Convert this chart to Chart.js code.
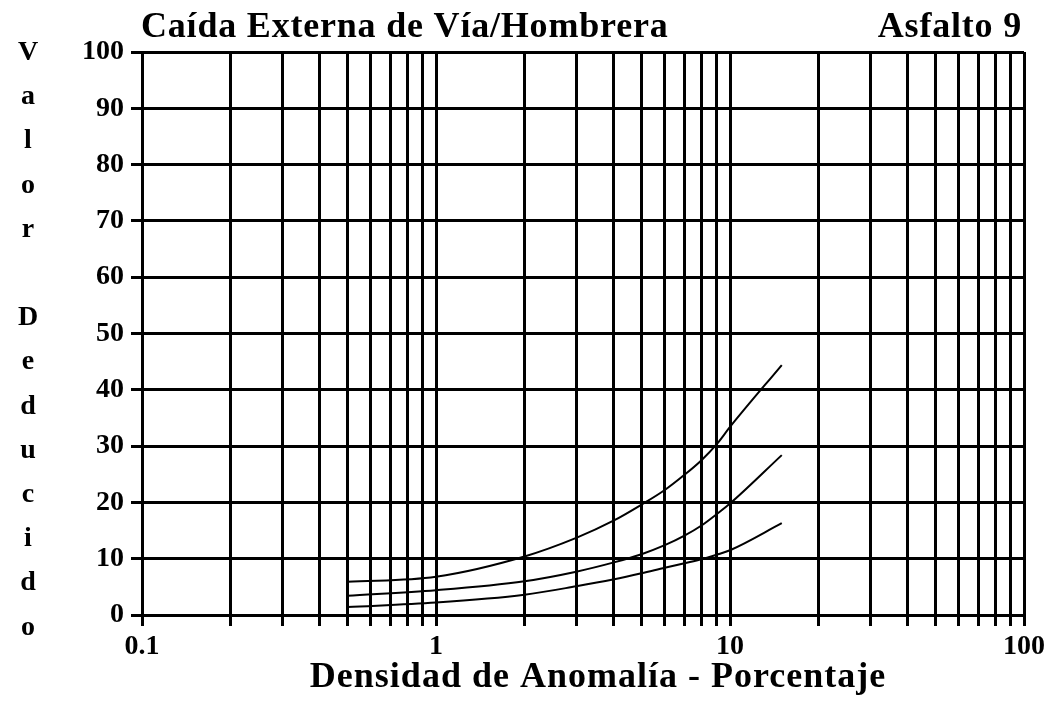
<!DOCTYPE html>
<html lang="es">
<head>
<meta charset="utf-8">
<title>Caída Externa de Vía/Hombrera - Asfalto 9</title>
<script src="https://cdn.jsdelivr.net/npm/chart.js@4.4.1/dist/chart.umd.min.js"></script>
<style>
  html, body { margin: 0; padding: 0; background: #fff; }
  #wrap { width: 1045px; height: 701px; }
</style>
</head>
<body>
<div id="wrap"><canvas id="curvasChart" width="1045" height="701"></canvas></div>
<script>
// Textos del gráfico
const TITULO = 'Caída Externa de Vía/Hombrera';
const SUBTITULO = 'Asfalto 9';
const TITULO_X = 'Densidad de Anomalía - Porcentaje';
const TITULO_Y = 'Valor Deducido';

// Densidad (%) donde se leyeron las curvas
const densidad = [0.5, 1, 2, 3, 4, 5, 6, 7, 8, 9, 10, 15];

// Valor deducido para cada nivel de severidad
const severidadAlta = [5.9, 6.8, 10.4, 13.7, 16.7, 19.6, 22.2, 24.9, 27.5, 30.3, 33.4, 44.4];
const severidadMedia = [3.4, 4.4, 6.0, 7.7, 9.3, 10.8, 12.4, 14.1, 15.9, 17.9, 19.8, 28.4];
const severidadBaja = [1.4, 2.2, 3.6, 5.1, 6.3, 7.4, 8.4, 9.2, 9.9, 10.7, 11.5, 16.3];

// Lineas de la cuadricula logaritmica y etiquetas del eje X
const lineasX = [0.1, 0.2, 0.3, 0.4, 0.5, 0.6, 0.7, 0.8, 0.9,
                 1, 2, 3, 4, 5, 6, 7, 8, 9,
                 10, 20, 30, 40, 50, 60, 70, 80, 90, 100];
const etiquetasX = { 0.1: '0.1', 1: '1', 10: '10', 100: '100' };

const FUENTE = '"Liberation Serif", "DejaVu Serif", serif';

// Convierte dos arreglos en puntos {x, y}
function puntos(xs, ys) {
    return xs.map((x, i) => ({ x: x, y: ys[i] }));
}

// Plugin para los titulos (el eje Y va letra por letra, en vertical)
const textosPlugin = {
    id: 'textos',
    afterDraw(chart) {
        const ctx = chart.ctx;
        ctx.save();
        ctx.fillStyle = '#000';
        ctx.textBaseline = 'alphabetic';

        ctx.font = 'bold 36px ' + FUENTE;
        ctx.letterSpacing = '0.8px';
        ctx.textAlign = 'left';
        ctx.fillText(TITULO, 141, 37);
        ctx.textAlign = 'right';
        ctx.fillText(SUBTITULO, 1022, 37);

        ctx.letterSpacing = '1px';
        ctx.textAlign = 'center';
        ctx.fillText(TITULO_X, 598, 687);

        ctx.letterSpacing = '0px';
        ctx.font = 'bold 28px ' + FUENTE;
        TITULO_Y.split('').forEach((letra, i) => {
            ctx.fillText(letra, 28, 60 + i * 44.2);
        });
        ctx.restore();
    }
};

function crearGrafico() {
    const ctx = document.getElementById('curvasChart').getContext('2d');
    const estiloCurva = {
        borderColor: '#000',
        borderWidth: 2,
        pointRadius: 0,
        fill: false,
        cubicInterpolationMode: 'monotone'
    };

    new Chart(ctx, {
        type: 'line',
        data: {
            datasets: [
                Object.assign({ label: 'Alta', data: puntos(densidad, severidadAlta) }, estiloCurva),
                Object.assign({ label: 'Media', data: puntos(densidad, severidadMedia) }, estiloCurva),
                Object.assign({ label: 'Baja', data: puntos(densidad, severidadBaja) }, estiloCurva)
            ]
        },
        options: {
            responsive: false,
            animation: false,
            layout: { padding: { left: 0, right: 21, top: 52, bottom: 0 } },
            scales: {
                x: {
                    type: 'logarithmic',
                    min: 0.1,
                    max: 100,
                    afterBuildTicks: s => { s.ticks = lineasX.map(v => ({ value: v })); },
                    afterFit: s => { s.height = 86; s.paddingLeft = 0; s.paddingRight = 0; },
                    grid: { color: '#000', lineWidth: 3, tickLength: 11, tickColor: '#000' },
                    border: { color: '#000', width: 3 },
                    ticks: {
                        autoSkip: false,
                        maxRotation: 0,
                        padding: 4,
                        color: '#000',
                        font: { family: FUENTE, size: 28, weight: 'bold' },
                        callback: v => etiquetasX[v] || ''
                    }
                },
                y: {
                    min: 0,
                    max: 100,
                    afterFit: s => { s.width = 142; },
                    grid: { color: '#000', lineWidth: 3, tickLength: 11, tickColor: '#000' },
                    border: { color: '#000', width: 3 },
                    ticks: {
                        stepSize: 10,
                        padding: 7,
                        color: '#000',
                        font: { family: FUENTE, size: 28, weight: 'bold' }
                    }
                }
            },
            plugins: {
                legend: { display: false },
                title: { display: false },
                tooltip: { enabled: false }
            }
        },
        plugins: [textosPlugin]
    });
}

crearGrafico();
</script>
</body>
</html>
